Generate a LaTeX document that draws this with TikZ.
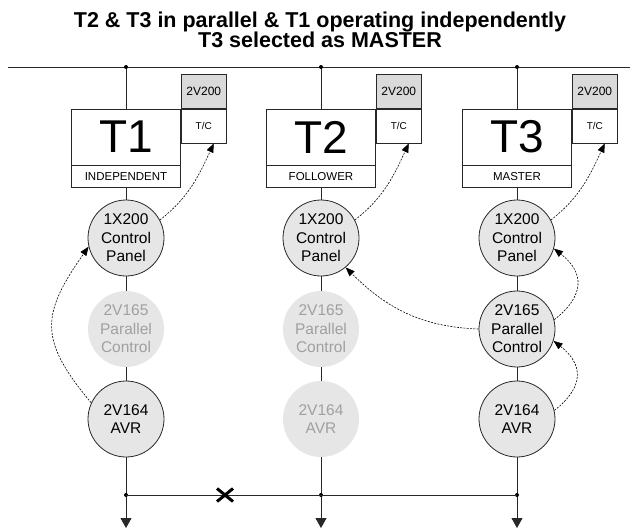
\documentclass[tikz,border=0pt]{standalone}
\usepackage{fontspec}
\setmainfont{Liberation Sans}
\usetikzlibrary{arrows.meta,shapes.misc}

\definecolor{unitfill}{RGB}{230,230,230}
\definecolor{tagfill}{RGB}{218,218,218}
\definecolor{fadetext}{RGB}{160,160,160}
\definecolor{wirecol}{RGB}{40,40,40}

\begin{document}
\begin{tikzpicture}[x=1pt,y=1pt,
  wire/.style={line width=0.8pt, draw=wirecol},
  feed/.style={wire, -{Triangle[width=11pt,length=10pt]}},
  junction/.style={circle, fill=black, inner sep=0pt, minimum size=4pt},
  mainbox/.style={draw=wirecol, line width=0.8pt, fill=white, minimum width=109pt,
    minimum height=56pt, inner sep=0pt, font=\fontsize{46}{46}\selectfont},
  rolebox/.style={draw=wirecol, line width=0.8pt, fill=white, minimum width=109pt,
    minimum height=22pt, inner sep=0pt, font=\fontsize{11.5}{12}\selectfont},
  tcbox/.style={draw=wirecol, line width=0.8pt, fill=white, minimum width=45pt,
    minimum height=34pt, inner sep=0pt, font=\fontsize{10}{12}\selectfont},
  idbox/.style={draw=wirecol, line width=0.8pt, fill=tagfill, minimum width=45pt,
    minimum height=34pt, inner sep=0pt, font=\fontsize{12}{14}\selectfont},
  unit/.style={circle, draw=wirecol, line width=0.8pt, fill=unitfill, minimum size=76pt,
    inner sep=0pt, align=center, font=\fontsize{15.5}{18.5}\selectfont},
  idle/.style={circle, fill=unitfill, minimum size=76pt, inner sep=0pt, align=center,
    text=fadetext, font=\fontsize{15.5}{18.5}\selectfont},
  sig/.style={line width=0.6pt, dash pattern=on 2pt off 1.3pt,
    -{Triangle[width=7pt,length=9pt]}},
  title/.style={anchor=base, font=\fontsize{21.5}{24}\bfseries\selectfont}
]
\useasboundingbox (0,0) rectangle (636,-528);

% headings
\node[title] (head1) at (320,-27.5) {T2 \& T3 in parallel \& T1 operating independently};
\node[title] (head2) at (320,-47) {T3 selected as MASTER};

% supply bus
\coordinate (busL) at (8,-67);
\coordinate (busR) at (630,-67);
\draw[wire] (busL) -- (busR);

% one column per transformer: x, name, role
\foreach \x/\n/\role in {126/1/INDEPENDENT, 321/2/FOLLOWER, 517/3/MASTER}{
  \coordinate (top\n) at (\x,-67);
  \coordinate (low\n) at (\x,-495);
  \coordinate (out\n) at (\x,-528);
  \node[mainbox] (T\n) at (\x,-137) {T\n};
  \node[rolebox, anchor=north] (role\n) at (T\n.south) {\role};
  \node[tcbox, anchor=north west] (tc\n) at (T\n.north east) {T/C};
  \node[idbox, anchor=south] (id\n) at (tc\n.north) {2V200};
}

% control units
\node[unit] (cp1) at (126,-238) {1X200\\Control\\Panel};
\node[idle] (pc1) at (126,-329) {2V165\\Parallel\\Control};
\node[unit] (avr1) at (126,-419) {2V164\\AVR};

\node[unit] (cp2) at (321,-238) {1X200\\Control\\Panel};
\node[idle] (pc2) at (321,-329) {2V165\\Parallel\\Control};
\node[idle] (avr2) at (321,-419) {2V164\\AVR};

\node[unit] (cp3) at (517,-238) {1X200\\Control\\Panel};
\node[unit] (pc3) at (517,-329) {2V165\\Parallel\\Control};
\node[unit] (avr3) at (517,-419) {2V164\\AVR};

% vertical feeders
\foreach \n in {1,2,3}{
  \draw[wire] (top\n) -- (T\n.north);
  \draw[wire] (role\n.south) -- (cp\n.north);
  \draw[wire] (cp\n.south) -- (pc\n.north);
  \draw[wire] (pc\n.south) -- (avr\n.north);
  \draw[wire] (avr\n.south) -- (low\n);
  \draw[feed] (low\n) -- (out\n);
  \node[junction] (dt\n) at (top\n) {};
  \node[junction] (db\n) at (low\n) {};
}

% output bus with open coupler
\draw[wire] (low1) -- (low3);
\node[cross out, draw=black, line width=3pt, minimum width=13pt, minimum height=10pt,
  inner sep=0pt] (brk) at (225,-495) {};

% control signals
\foreach \n in {1,2,3}{
  \draw[sig] (cp\n.28) to[out=38, in=-115] ([xshift=10pt]tc\n.south);
}
\draw[sig] (avr1.155) to[out=130, in=235, looseness=1.35] (cp1.193);
\draw[sig] (pc3.180) to[out=178, in=-45] (cp2.-50);
\draw[sig] (pc3.14) to[out=38, in=-38, looseness=1.4] (cp3.-16);
\draw[sig] (avr3.13) to[out=38, in=-38, looseness=1.4] (pc3.-18);
\end{tikzpicture}
\end{document}
